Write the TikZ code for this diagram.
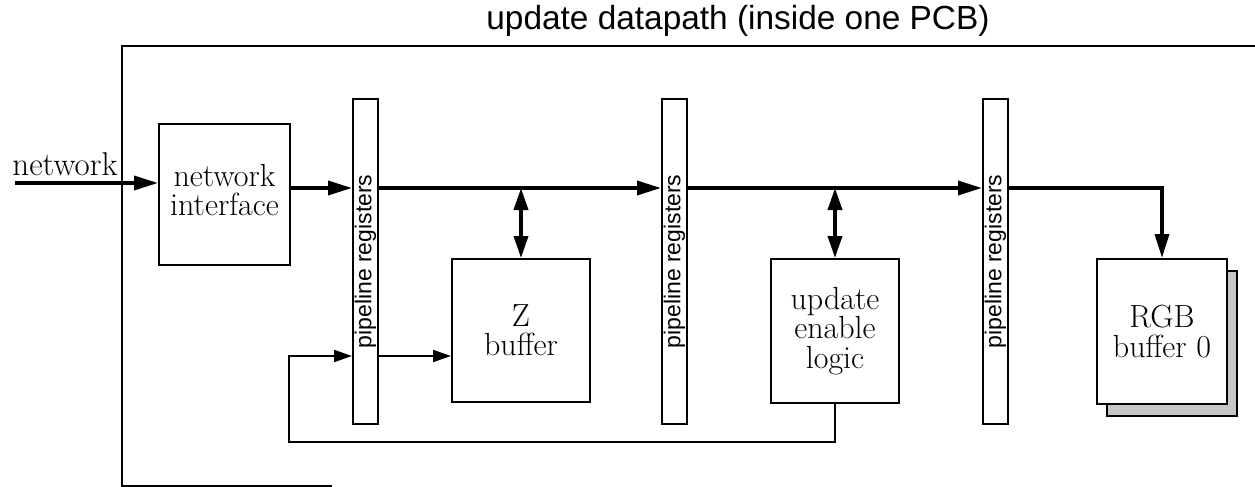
\documentclass[tikz,border=0pt]{standalone}
\usepackage{fontspec}
\usepackage{tikz}
\usetikzlibrary{arrows.meta}
\newfontfamily\helv{Liberation Sans}

\begin{document}
\begin{tikzpicture}[
    x=0.5pt, y=-0.5pt,
    every node/.style={inner sep=0pt},
    block/.style={draw, line width=1pt, fill=white, align=center,
        font=\fontsize{16}{14.6}\selectfont},
    pipereg/.style={draw, line width=1pt, minimum width=12.5pt, minimum height=162.5pt},
    regtext/.style={rotate=90, font=\helv\fontsize{11.5}{12}\selectfont},
    bus/.style={line width=1.8pt, -{Triangle[length=12pt,width=7pt]}},
    busboth/.style={line width=1.8pt, {Triangle[length=11pt,width=7pt]}-{Triangle[length=11pt,width=7pt]}},
    wire/.style={line width=0.9pt, -{Triangle[length=9pt,width=6pt]}}
]
\useasboundingbox (0,0) rectangle (1255,487);

% board outline and caption
\draw[line width=0.8pt] (1255,46) -- (122,46) -- (122,486) -- (332,486);
\node (title) [anchor=base, font=\helv\fontsize{16.7}{20}\selectfont] at (738,30)
    {update datapath (inside one PCB)};

% input side
\node (netlbl) [anchor=base west, font=\fontsize{16.5}{20}\selectfont] at (12,175) {network};
\node[block, minimum width=65.5pt, minimum height=70.5pt] (NI) at (224.5,194.5) {network\\interface\strut};

% pipeline register columns
\node[pipereg] (R1) at (365.5,261.5) {};
\node[regtext] (R1txt) at (R1.center) {pipeline registers};
\node[pipereg] (R2) at (674.5,261.5) {};
\node[regtext] (R2txt) at (R2.center) {pipeline registers};
\node[pipereg] (R3) at (995.5,261.5) {};
\node[regtext] (R3txt) at (R3.center) {pipeline registers};

% lower stage blocks
\node[block, minimum width=69pt, minimum height=71.5pt] (Z) at (521,330.5) {Z\\buffer};
\node[block, minimum width=64pt, minimum height=72pt] (upd) at (835,331) {update\\enable\\logic};
\node[draw, line width=0.8pt, fill=gray!45, minimum width=65pt, minimum height=72.5pt] (rgbshadow) at (1172,343.5) {};
\node[block, minimum width=65pt, minimum height=72.5pt] (rgb) at (1162,331.5) {RGB\\buffer 0};

% helper points
\coordinate (netin) at (15,183);
\coordinate (bus) at (0,188);
\coordinate (zin) at (0,356);
\coordinate (loopL) at (289,442);

% main datapath
\draw[bus] (netin) -- (NI.west |- netin);
\draw[bus] (NI.east |- bus) -- (R1.west |- bus);
\draw[bus] (R1.east |- bus) -- (R2.west |- bus);
\draw[bus] (R2.east |- bus) -- (R3.west |- bus);
\draw[bus] (R3.east |- bus) -| (rgb.north);
\draw[busboth] (Z.north |- bus) -- (Z.north);
\draw[busboth] (upd.north |- bus) -- (upd.north);

% feedback from enable logic
\draw[wire] (upd.south) |- (loopL) |- (R1.west |- zin);
\draw[wire] (R1.east |- zin) -- (Z.west |- zin);

\end{tikzpicture}
\end{document}
